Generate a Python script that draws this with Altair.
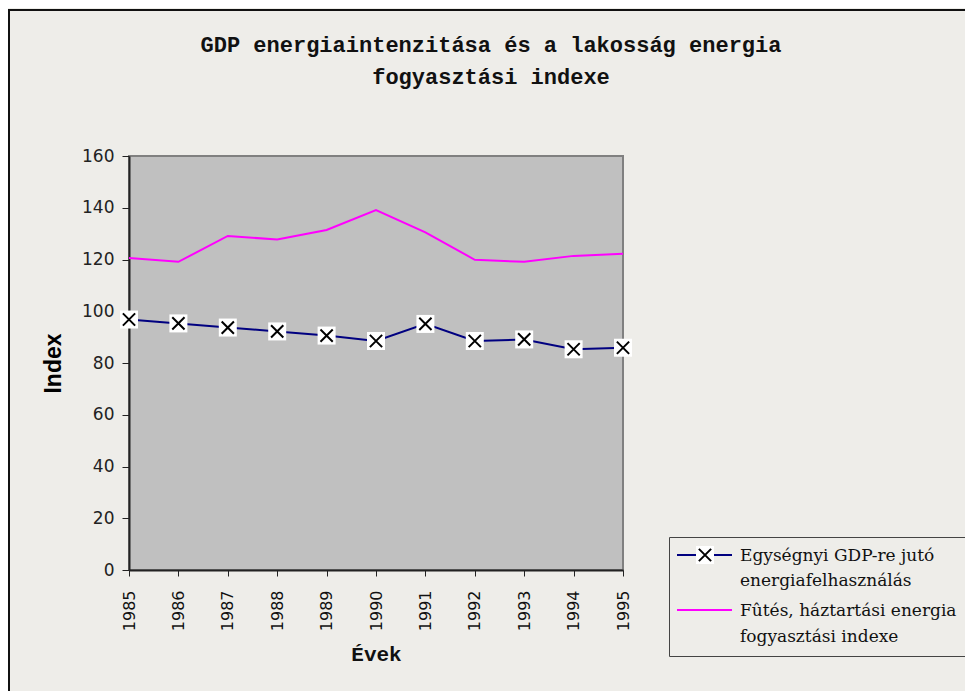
import altair as alt
import pandas as pd

# ---- data ----
years = [1985, 1986, 1987, 1988, 1989, 1990, 1991, 1992, 1993, 1994, 1995]
gdp_intensity = [96.8, 95.3, 93.7, 92.2, 90.6, 88.5, 95.1, 88.5, 89.1, 85.3, 85.9]
heating_index = [120.6, 119.1, 129.1, 127.7, 131.4, 139.1, 130.5, 119.9, 119.1, 121.4, 122.2]
series_names = ["Egységnyi GDP-re jutó energiafelhasználás",
                "Fûtés, háztartási energia fogyasztási indexe"]
legend_lines = [["Egységnyi GDP-re jutó", "energiafelhasználás"],
                ["Fûtés, háztartási energia", "fogyasztási indexe"]]
series_colors = ["#000080", "#FF00FF"]
title_lines = ["GDP energiaintenzitása és a lakosság energia", "fogyasztási indexe"]
y_ticks = [0, 20, 40, 60, 80, 100, 120, 140, 160]

rows = []
for y, a, b in zip(years, gdp_intensity, heating_index):
    rows.append({"year": y, "value": a, "series": series_names[0]})
    rows.append({"year": y, "value": b, "series": series_names[1]})
df = pd.DataFrame(rows)

x_enc = alt.X("year:O", scale=alt.Scale(type="point", padding=0),
              axis=alt.Axis(title="Évek", labelAngle=270, labelFont="DejaVu Sans",
                            labelFontSize=16, labelColor="#111", labelPadding=14,
                            tickSize=6, tickColor="#222", domainColor="#222",
                            domainWidth=2, titleFont="Liberation Mono",
                            titleFontSize=21, titleFontWeight="bold",
                            titlePadding=13, titleColor="#111"))
y_enc = alt.Y("value:Q", scale=alt.Scale(domain=[0, 160], nice=False),
              axis=alt.Axis(values=y_ticks, title="Index", grid=False,
                            labelFont="DejaVu Sans", labelFontSize=17,
                            labelColor="#222", labelPadding=8, tickSize=7,
                            tickColor="#222", domainColor="#222", domainWidth=2,
                            titleFont="Liberation Sans", titleFontSize=23,
                            titleFontWeight="bold", titleColor="#000",
                            titlePadding=16))

base = alt.Chart(df)

lines = base.mark_line(strokeWidth=2).encode(
    x=x_enc, y=y_enc,
    color=alt.Color("series:N", scale=alt.Scale(domain=series_names, range=series_colors),
                    legend=None),
)
gdp_only = base.transform_filter(alt.datum.series == series_names[0])
squares = gdp_only.mark_square(size=324, color="white", opacity=1).encode(x=x_enc, y=y_enc)
crosses = gdp_only.mark_point(shape="M-1,-1L1,1M-1,1L1,-1", size=150, filled=False,
                              stroke="black", strokeWidth=2, opacity=1).encode(x=x_enc, y=y_enc)

one = alt.Data(values=[{"k": 0}])

outer = alt.Chart(one).mark_rect(fillOpacity=0, stroke="#111", strokeWidth=2).encode(
    x=alt.value(-120), x2=alt.value(900), y=alt.value(-146), y2=alt.value(700))

title_text = alt.Chart(one).mark_text(align="center", baseline="alphabetic",
                                      font="Liberation Mono", fontSize=22, fontWeight="bold",
                                      lineHeight=32, color="#111").encode(
    x=alt.value(362), y=alt.value(-104), text=alt.value(title_lines))

legend_box = alt.Chart(one).mark_rect(fillOpacity=0, stroke="#444", strokeWidth=1).encode(
    x=alt.value(540.5), x2=alt.value(900), y=alt.value(381.5), y2=alt.value(500.5))

leg1_line = alt.Chart(one).mark_rule(color=series_colors[0], strokeWidth=2).encode(
    x=alt.value(548), x2=alt.value(603), y=alt.value(399))
leg1_sq = alt.Chart(one).mark_square(size=324, color="white", opacity=1).encode(
    x=alt.value(576), y=alt.value(399))
leg1_x = alt.Chart(one).mark_point(shape="M-1,-1L1,1M-1,1L1,-1", size=150, filled=False,
                                   stroke="black", strokeWidth=2, opacity=1).encode(
    x=alt.value(576), y=alt.value(399))
leg1_text = alt.Chart(one).mark_text(align="left", baseline="alphabetic", font="DejaVu Serif",
                                     fontSize=17, lineHeight=25, color="#111").encode(
    x=alt.value(611), y=alt.value(405), text=alt.value(legend_lines[0]))

leg2_line = alt.Chart(one).mark_rule(color=series_colors[1], strokeWidth=2).encode(
    x=alt.value(548), x2=alt.value(603), y=alt.value(454))
leg2_text = alt.Chart(one).mark_text(align="left", baseline="alphabetic", font="DejaVu Serif",
                                     fontSize=17, lineHeight=26, color="#111").encode(
    x=alt.value(611), y=alt.value(460), text=alt.value(legend_lines[1]))

chart = alt.layer(
    outer, title_text, legend_box, leg1_line, leg1_sq, leg1_x, leg1_text, leg2_line, leg2_text,
    lines, squares, crosses,
).properties(
    width=494, height=414,
    autosize=alt.AutoSizeParams(type="none"),
    padding={"left": 121, "top": 148, "right": 342, "bottom": 121},
    background="#EEEDE9",
).configure_view(
    fill="#C0C0C0", stroke="#808080", strokeWidth=2
)

chart.save("out.html", embed_options={"renderer": "svg", "actions": False})
